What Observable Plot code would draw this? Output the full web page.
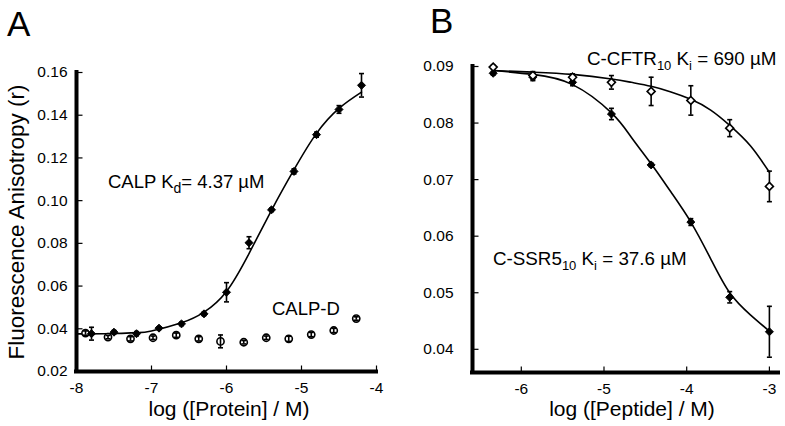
<!DOCTYPE html>
<html><head><meta charset="utf-8">
<script src="https://cdn.jsdelivr.net/npm/d3@7"></script>
<script src="https://cdn.jsdelivr.net/npm/@observablehq/plot@0.6"></script>
<style>
body{margin:0;background:#fff}
#wrap{position:relative;width:785px;height:426px;overflow:hidden;background:#fff;font-family:"Liberation Sans",Arial,sans-serif}
#wrap > svg{position:absolute;top:0}
</style>
</head><body><div id="wrap"></div>
<script>
// ---- Panel A data ----
const xDomainA = [-8, -4];
const yDomainA = [0.02, 0.16];
const xTicksA = [-8, -7, -6, -5, -4];
const yTicksA = [0.02, 0.04, 0.06, 0.08, 0.10, 0.12, 0.14, 0.16];
const xCalp = [-7.8, -7.5, -7.2, -6.9, -6.6, -6.3, -6.0, -5.7, -5.4, -5.1, -4.8, -4.5, -4.2];
const yCalp = [0.0377, 0.0384, 0.0377, 0.0403, 0.0423, 0.0470, 0.0571, 0.0803, 0.0957, 0.1137, 0.1309, 0.1427, 0.1540];
const eCalp = [0.0030, 0.0008, 0.0010, 0.0006, 0.0008, 0.0008, 0.0045, 0.0028, 0.0008, 0.0012, 0.0012, 0.0018, 0.0055];
const xCalpD = [-7.88, -7.58, -7.28, -6.98, -6.67, -6.37, -6.08, -5.77, -5.47, -5.17, -4.87, -4.57, -4.27];
const yCalpD = [0.0380, 0.0361, 0.0353, 0.0358, 0.0370, 0.0353, 0.0341, 0.0337, 0.0358, 0.0353, 0.0373, 0.0392, 0.0448];
const eCalpD = [0.0010, 0.0008, 0.0010, 0.0008, 0.0010, 0.0010, 0.0030, 0.0008, 0.0008, 0.0012, 0.0010, 0.0010, 0.0008];
const xCurveA = [-8, -7.5, -7.2, -7, -6.6, -6.3, -6, -5.7, -5.4, -5.1, -4.8, -4.5, -4.2];
const yCurveA = [0.0376, 0.0378, 0.0382, 0.0390, 0.0428, 0.0478, 0.0575, 0.0752, 0.0955, 0.1145, 0.1315, 0.1432, 0.1508];

// ---- Panel B data ----
const xDomainB = [-6.59, -2.89];
const yDomainB = [0.0359, 0.09];
const xTicksB = [-6, -5, -4, -3];
const yTicksB = [0.04, 0.05, 0.06, 0.07, 0.08, 0.09];
const xB = [-6.34, -5.86, -5.38, -4.91, -4.43, -3.95, -3.48, -3.0];
const ySSR = [0.0888, 0.0881, 0.0872, 0.0816, 0.0726, 0.0625, 0.0492, 0.0431];
const eSSR = [0.0003, 0.0006, 0.0006, 0.0010, 0.0003, 0.0006, 0.0010, 0.0045];
const yCFTR = [0.0899, 0.0884, 0.0881, 0.0872, 0.0856, 0.0840, 0.0791, 0.0688];
const eCFTR = [0.0003, 0.0007, 0.0006, 0.0012, 0.0025, 0.0026, 0.0015, 0.0027];
const xCurveB = [-6.34, -5.86, -5.38, -4.91, -4.67, -4.43, -4.19, -3.95, -3.71, -3.48, -3.23, -3.0];
const yCurveSSR = [0.0893, 0.0886, 0.0868, 0.0818, 0.0775, 0.0728, 0.0678, 0.0625, 0.0560, 0.0500, 0.0461, 0.0432];
const yCurveCFTR = [0.0893, 0.0890, 0.0886, 0.0878, 0.0872, 0.0865, 0.0855, 0.0842, 0.0823, 0.0796, 0.0760, 0.0713];

const FONT = '"Liberation Sans", Arial, sans-serif';
const zip = (xs, ys, es) => xs.map((x, i) => ({x, y: ys[i], e: es ? es[i] : 0}));

const tickUp = {draw(c) { c.moveTo(0, 0); c.lineTo(0, -6); }};
const tickRight = {draw(c) { c.moveTo(0, 0); c.lineTo(6, 0); }};
const cap = {draw(c) { c.moveTo(-2.5, 0); c.lineTo(2.5, 0); }};

function errMarks(data) {
  return [
    Plot.ruleX(data, {x: "x", y1: d => d.y - d.e, y2: d => d.y + d.e, stroke: "black", strokeWidth: 1.6}),
    Plot.dot(data, {x: "x", y: d => d.y - d.e, symbol: cap, stroke: "black", fill: "none", strokeWidth: 1.6}),
    Plot.dot(data, {x: "x", y: d => d.y + d.e, symbol: cap, stroke: "black", fill: "none", strokeWidth: 1.6})
  ];
}

function axisMarks(xTicks, yTicks, xDom, yDom) {
  return [
    Plot.dot(xTicks, {x: d => d, y: () => yDom[0], symbol: tickUp, stroke: "black", fill: "none", strokeWidth: 1.2}),
    Plot.dot(yTicks, {x: () => xDom[0], y: d => d, symbol: tickRight, stroke: "black", fill: "none", strokeWidth: 1.2}),
    Plot.ruleY([yDom[0]], {stroke: "black", strokeWidth: 4, strokeLinecap: "square"}),
    Plot.ruleX([xDom[0]], {stroke: "black", strokeWidth: 4, strokeLinecap: "square"})
  ];
}

const wrap = document.getElementById("wrap");

// Panel A
const calp = zip(xCalp, yCalp, eCalp);
const calpD = zip(xCalpD, yCalpD, eCalpD);
const curveA = zip(xCurveA, yCurveA);
const plotA = Plot.plot({
  width: 392, height: 426,
  marginLeft: 76, marginRight: 16, marginTop: 72, marginBottom: 55,
  style: {fontSize: "15.5px", fontFamily: FONT, color: "black", background: "transparent", overflow: "visible"},
  x: {domain: xDomainA, ticks: xTicksA, tickFormat: d => String(d), tickSize: 0, tickPadding: 10.5, label: null},
  y: {domain: yDomainA, ticks: yTicksA, tickFormat: d3.format(".2f"), tickSize: 0, tickPadding: 9, label: null},
  marks: [
    ...axisMarks(xTicksA, yTicksA, xDomainA, yDomainA),
    Plot.line(curveA, {x: "x", y: "y", curve: "natural", stroke: "black", strokeWidth: 1.6}),
    Plot.dot(calpD, {x: "x", y: "y", r: 3.6, fill: "white", stroke: "black", strokeWidth: 1.6}),
    ...errMarks(calpD),
    ...errMarks(calp),
    Plot.dot(calp, {x: "x", y: "y", symbol: "diamond2", r: 3.6, fill: "black", stroke: "black", strokeWidth: 1})
  ]
});
plotA.style.left = "0px";
wrap.appendChild(plotA);

// Panel B
const ssr = zip(xB, ySSR, eSSR);
const cftr = zip(xB, yCFTR, eCFTR);
const curveSSR = zip(xCurveB, yCurveSSR);
const curveCFTR = zip(xCurveB, yCurveCFTR);
const plotB = Plot.plot({
  width: 393, height: 426,
  marginLeft: 80, marginRight: 7, marginTop: 66, marginBottom: 54,
  style: {fontSize: "15.5px", fontFamily: FONT, color: "black", background: "transparent", overflow: "visible"},
  x: {domain: xDomainB, ticks: xTicksB, tickFormat: d => String(d), tickSize: 0, tickPadding: 10.5, label: null},
  y: {domain: yDomainB, ticks: yTicksB, tickFormat: d3.format(".2f"), tickSize: 0, tickPadding: 19, label: null},
  marks: [
    ...axisMarks(xTicksB, yTicksB, xDomainB, yDomainB),
    Plot.line(curveSSR, {x: "x", y: "y", curve: "natural", stroke: "black", strokeWidth: 1.6}),
    Plot.line(curveCFTR, {x: "x", y: "y", curve: "natural", stroke: "black", strokeWidth: 1.6}),
    ...errMarks(ssr),
    Plot.dot(ssr, {x: "x", y: "y", symbol: "diamond2", r: 3.6, fill: "black", stroke: "black", strokeWidth: 1}),
    ...errMarks(cftr),
    Plot.dot(cftr, {x: "x", y: "y", symbol: "diamond2", r: 3.6, fill: "white", stroke: "black", strokeWidth: 1.6})
  ]
});
plotB.style.left = "392px";
wrap.appendChild(plotB);

// Text overlay
const NS = "http://www.w3.org/2000/svg";
const ov = document.createElementNS(NS, "svg");
ov.setAttribute("width", 785); ov.setAttribute("height", 426);
ov.style.left = "0px";
ov.style.pointerEvents = "none";
ov.setAttribute("font-family", FONT);
ov.innerHTML = `
  <text x="7" y="36" font-size="35">A</text>
  <text x="430" y="33" font-size="35">B</text>
  <text transform="translate(23.5,222) rotate(-90)" text-anchor="middle" font-size="22.5">Fluorescence Anisotropy (r)</text>
  <text x="229" y="416" text-anchor="middle" font-size="21">log ([Protein] / M)</text>
  <text x="632" y="416" text-anchor="middle" font-size="21">log ([Peptide] / M)</text>
  <text x="108" y="188" font-size="18.5">CALP K<tspan dy="5" font-size="14">d</tspan><tspan dy="-5">= 4.37 µM</tspan></text>
  <text x="272" y="315" font-size="18.5">CALP-D</text>
  <text x="587" y="65" font-size="18.8">C-CFTR<tspan dy="5" font-size="13">10</tspan><tspan dy="-5"> K</tspan><tspan dy="5" font-size="13">i</tspan><tspan dy="-5"> = 690 µM</tspan></text>
  <text x="493" y="265" font-size="18.8">C-SSR5<tspan dy="5" font-size="13">10</tspan><tspan dy="-5"> K</tspan><tspan dy="5" font-size="13">i</tspan><tspan dy="-5"> = 37.6 µM</tspan></text>
`;
wrap.appendChild(ov);
</script>
</body></html>
